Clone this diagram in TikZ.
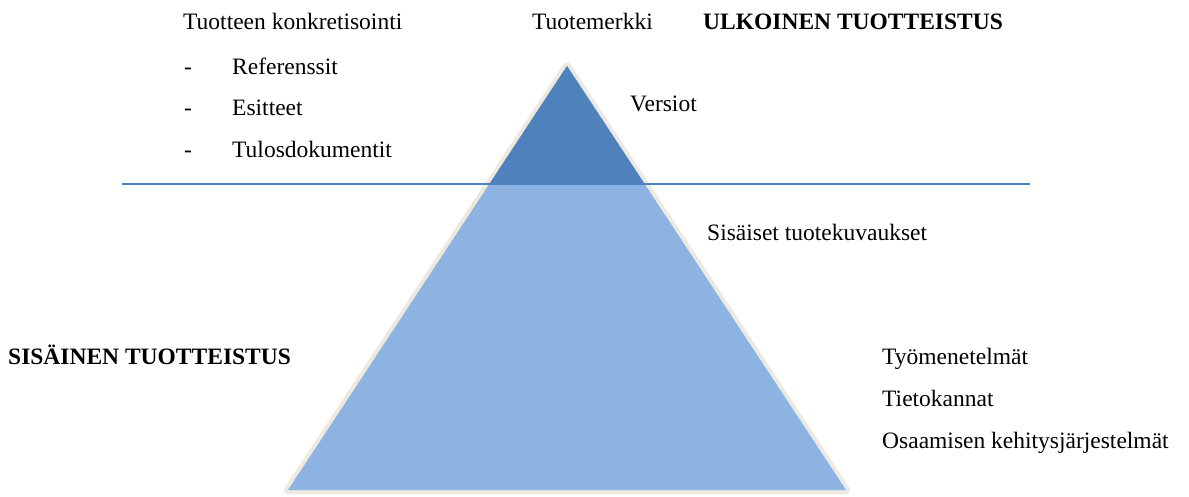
\documentclass[tikz,border=0pt]{standalone}
\usepackage{fontspec}
\setmainfont{Liberation Serif}
\usetikzlibrary{calc}
\definecolor{darkblue}{RGB}{79,129,189}
\definecolor{lightblue}{RGB}{141,179,226}
\definecolor{glowc}{RGB}{238,233,222}
\definecolor{linec}{RGB}{79,129,189}
\tikzset{
  lbl/.style={font=\rmfamily\fontsize{23.5}{28}\selectfont, inner sep=0pt, anchor=base west, text=black},
  ttl/.style={lbl, font=\rmfamily\fontsize{23.5}{28}\selectfont\bfseries},
}
\begin{document}
\begin{tikzpicture}[x=1pt,y=-1pt]
\useasboundingbox (0,0) rectangle (1189,497);
% pyramid
\coordinate (A) at (567,66);
\coordinate (BL) at (288,490);
\coordinate (BR) at (846,490);
\coordinate (CL) at ($(A)!118/424!(BL)$);
\coordinate (CR) at ($(A)!118/424!(BR)$);
\draw[glowc, line width=8pt, line join=round] (A) -- (BL) -- (BR) -- cycle;
\fill[lightblue] (A) -- (BL) -- (BR) -- cycle;
\fill[darkblue] (A) -- (CL) -- (CR) -- cycle;
% separator line
\coordinate (L1) at (122,184);
\coordinate (L2) at (1030,184);
\draw[linec, line width=1.5pt] (L1) -- (L2);
% texts
\node[lbl] (konk) at (183,30) {Tuotteen konkretisointi};
\node[lbl] (d1) at (184,75) {-};
\node[lbl] (ref) at (232,75) {Referenssit};
\node[lbl] (d2) at (184,116) {-};
\node[lbl] (esi) at (232,116) {Esitteet};
\node[lbl] (d3) at (184,158) {-};
\node[lbl] (tul) at (232,158) {Tulosdokumentit};
\node[lbl] (merk) at (532,30) {Tuotemerkki};
\node[ttl] (ulk) at (703,30) {ULKOINEN TUOTTEISTUS};
\node[lbl] (ver) at (630,112) {Versiot};
\node[lbl] (sis) at (707,241) {Sisäiset tuotekuvaukset};
\node[ttl] (sisT) at (8,364) {SISÄINEN TUOTTEISTUS};
\node[lbl] (tyo) at (882,364) {Työmenetelmät};
\node[lbl] (tie) at (882,406) {Tietokannat};
\node[lbl] (osa) at (882,448) {Osaamisen kehitysjärjestelmät};
\end{tikzpicture}
\end{document}
